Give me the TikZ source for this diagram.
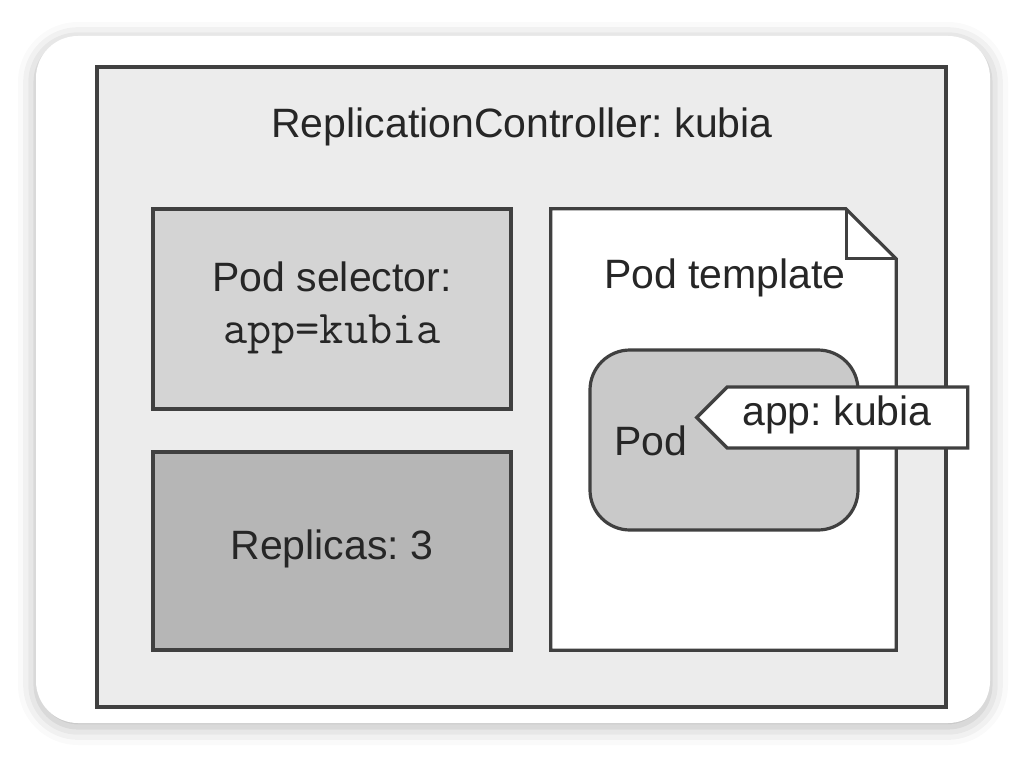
\documentclass[tikz,border=0pt]{standalone}
\usepackage{fontspec}
\setmainfont{Liberation Sans}
\usetikzlibrary{shadows.blur,shapes.symbols}
\definecolor{rcgrey}{HTML}{ECECEC}
\definecolor{selgrey}{HTML}{D4D4D4}
\definecolor{repgrey}{HTML}{B6B6B6}
\definecolor{podgrey}{HTML}{C9C9C9}
\definecolor{edgegrey}{HTML}{404040}
\frenchspacing
\tikzset{
    every node/.style={inner sep=0mm, font=\fontsize{41}{48}\selectfont, text=black!85},
    box/.style={rectangle, draw=edgegrey, line width=3.2pt}
}

\begin{document}
\begin{tikzpicture}[x=1pt, y=-1pt]
    \useasboundingbox (0,0) rectangle (1026,760);
    \fill[white, rounded corners=42pt, blur shadow={shadow xshift=0pt, shadow yshift=-4pt, shadow blur radius=18pt, shadow opacity=30}]
        (36,36) rectangle (990,723);

    \node (rc) at (521.5,387) [box, fill=rcgrey, minimum width=849pt, minimum height=640pt] {};
    \node (rctitle) at (522,127) {ReplicationController: kubia};

    \node (sel) at (332,309) [box, fill=selgrey, minimum width=358pt, minimum height=200pt] {};
    \node (selname) at (332,277) {Pod selector:};
    \node (selval) at (332,334) {\fontsize{47}{50}\ttfamily app=kubia};

    \node (rep) at (332,551) [box, fill=repgrey, minimum width=358pt, minimum height=198pt] {};
    \node (repname) at (332,549) {Replicas: 3};

    \node (tmpl) at (723.5,429.5) [minimum width=345pt, minimum height=441pt] {};
    \draw[edgegrey, line width=3.2pt, fill=white, line join=miter]
        (tmpl.north west) -- ++(295,0) -- ([yshift=-50pt]tmpl.north east)
        -- (tmpl.south east) -- (tmpl.south west) -- cycle;
    \draw[edgegrey, line width=3.2pt, line join=miter]
        ([xshift=-50pt]tmpl.north east) |- ([yshift=-50pt]tmpl.north east);
    \node (tmplname) at (725,278) {Pod template};

    \node (pod) at (724,440) [box, rounded corners=40pt, fill=podgrey, minimum width=268pt, minimum height=180pt] {};
    \node (podname) at (651,441) {Pod};

    \node (tag) at (847.5,417.5) [signal, signal to=west, signal from=nowhere, signal pointer angle=90,
        draw=edgegrey, line width=3.2pt, fill=white, minimum width=271pt, minimum height=61pt] {};
    \node (tagtext) at (837,415) {app: kubia};
\end{tikzpicture}
\end{document}
